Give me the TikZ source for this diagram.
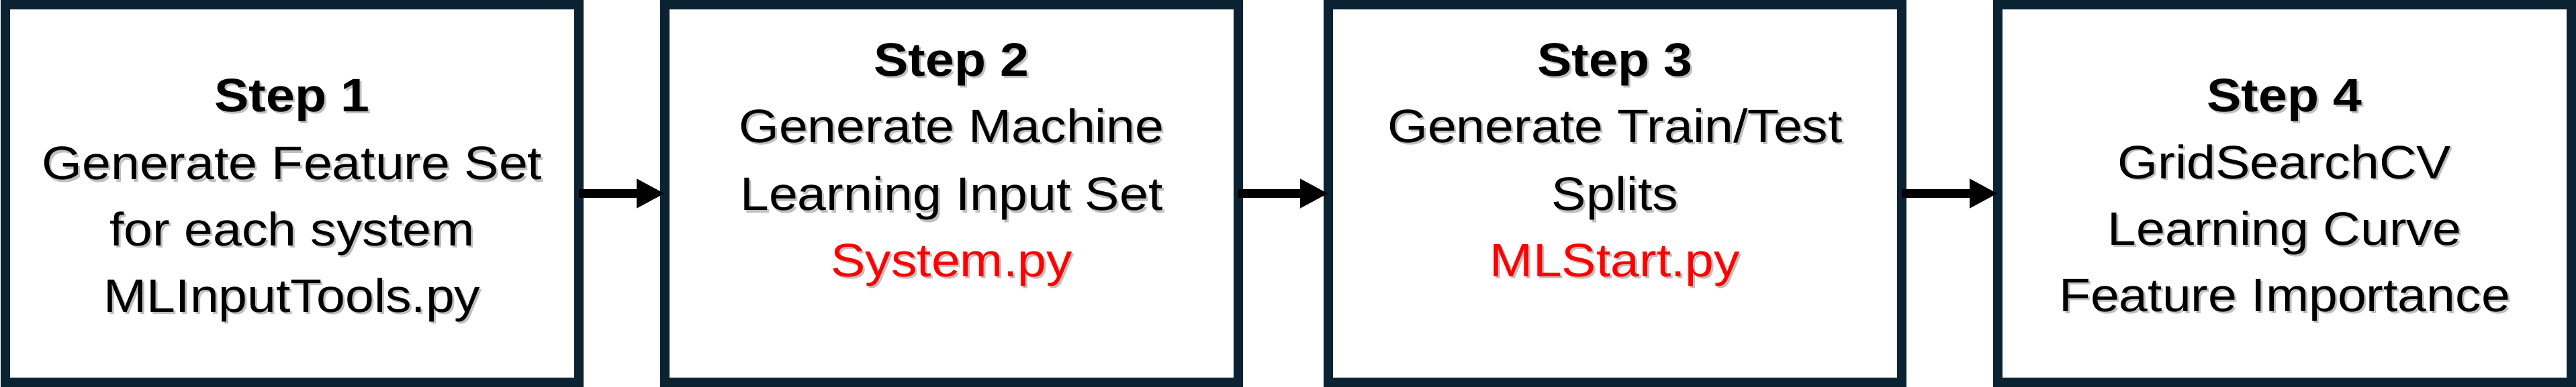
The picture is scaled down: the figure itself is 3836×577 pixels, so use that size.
\documentclass[tikz,border=0pt]{standalone}
\usepackage{fontspec}
\setmainfont{Liberation Sans}[FakeStretch=1.1]
\usetikzlibrary{arrows.meta,calc}
\definecolor{navy}{RGB}{11,34,51}
\definecolor{redtxt}{RGB}{255,0,0}
\newcommand{\shline}[5]{%
  \node[txtline, text=black, opacity=0.25] (#1s) at (#2+3,-#3-3) {#5};
  \node[txtline, text=#4] (#1) at (#2,-#3) {#5};}
\begin{document}
\begin{tikzpicture}[x=0.5pt,y=0.5pt,
  stepbox/.style={draw=navy, line width=7pt, fill=white, minimum width=427pt,
    minimum height=281.5pt, inner sep=0pt, outer sep=0pt},
  txtline/.style={anchor=base, inner sep=0pt, outer sep=0pt,
    font=\fontsize{35}{42}\selectfont},
  flow/.style={line width=6.5pt, draw=black, -{Triangle[length=21pt,width=20.5pt]}}]
\useasboundingbox (0,0) rectangle (3836,-577);
\fill[white] (0,0) rectangle (3836,-577);
% boxes
\node[stepbox] (b1) at (435,-288.5) {};
\node[stepbox] (b2) at (1417,-288.5) {};
\node[stepbox] (b3) at (2405,-288.5) {};
\node[stepbox] (b4) at (3402,-288.5) {};
% arrows
\draw[flow] (b1.east) -- (b2.west);
\draw[flow] (b2.east) -- (b3.west);
\draw[flow] (b3.east) -- (b4.west);
% box 1
\shline{t11}{435}{167}{black}{\bfseries Step 1}
\shline{t12}{435}{268}{black}{Generate Feature Set}
\shline{t13}{435}{366}{black}{for each system}
\shline{t14}{435}{465}{black}{MLInputTools.py}
% box 2
\shline{t21}{1417}{114}{black}{\bfseries Step 2}
\shline{t22}{1417}{213}{black}{Generate Machine}
\shline{t23}{1417}{314}{black}{Learning Input Set}
\shline{t24}{1417}{412}{redtxt}{System.py}
% box 3
\shline{t31}{2405}{114}{black}{\bfseries Step 3}
\shline{t32}{2405}{213}{black}{Generate Train/Test}
\shline{t33}{2405}{314}{black}{Splits}
\shline{t34}{2405}{412}{redtxt}{MLStart.py}
% box 4
\shline{t41}{3402}{167}{black}{\bfseries Step 4}
\shline{t42}{3402}{266}{black}{GridSearchCV}
\shline{t43}{3402}{365}{black}{Learning Curve}
\shline{t44}{3402}{464}{black}{Feature Importance}
\end{tikzpicture}
\end{document}
